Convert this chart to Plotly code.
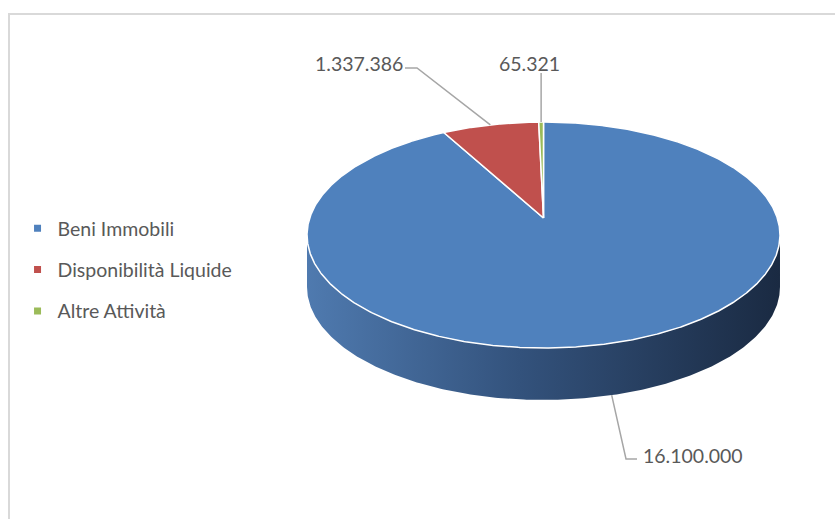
import numpy as np
import plotly.graph_objects as go

# ---- data ----
categories = ["Beni Immobili", "Disponibilità Liquide", "Altre Attività"]
values = [16100000, 1337386, 65321]
value_labels = ["16.100.000", "1.337.386", "65.321"]
colors = ["#4f81bd", "#c0504d", "#9bbb59"]
side_scales = [
    [[0, "#4f7aaf"], [0.45, "#33527c"], [1, "#1a2a42"]],
    [[0, "#9e3e3b"], [1, "#5e2322"]],
    [[0, "#7f9a48"], [1, "#4a5c2a"]],
]

# ---- geometry (pixel space of the 835x519 page) ----
W, H = 835, 519
CX, CY = 543.5, 218.0   # apex of slices
R = 233.8               # radius
A, C = 77.65, -0.1504   # perspective parameters
DEPTH = 52              # thickness of the pie


def proj(theta_deg, r=1.0):
    t = np.radians(theta_deg)
    u = r * np.sin(t)
    v = -r * np.cos(t)
    den = 1 + C * v
    return CX + u * R / den, (A * v + CY) / den


total = float(sum(values))
fracs = [v / total for v in values]
starts = np.concatenate([[0], np.cumsum(fracs)[:-1]]) * 360
ends = np.cumsum(fracs) * 360

# visible side range (between the horizontal extremes)
tt = np.linspace(0, 360, 36001)
xx, _ = proj(tt)
t_right = tt[np.argmax(xx)]
t_left = tt[np.argmin(xx)]

fig = go.Figure()

# sides
for i in range(len(values)):
    a = max(starts[i], t_right)
    b = min(ends[i], t_left)
    if b <= a:
        continue
    th = np.linspace(a, b, 300)
    xt, yt = proj(th)
    xs = np.concatenate([xt, xt[::-1], [xt[0]]])
    ys = np.concatenate([yt, (yt + DEPTH)[::-1], [yt[0]]])
    fig.add_trace(go.Scatter(
        x=xs, y=ys, mode="lines", fill="toself",
        fillgradient=dict(type="horizontal", colorscale=side_scales[i]),
        line=dict(width=0), showlegend=False, hoverinfo="skip"))

# top faces
for i in range(len(values)):
    th = np.linspace(starts[i], ends[i], max(int((ends[i] - starts[i]) * 3), 4))
    xt, yt = proj(th)
    xs = np.concatenate([[CX], xt, [CX]])
    ys = np.concatenate([[CY], yt, [CY]])
    fig.add_trace(go.Scatter(
        x=xs, y=ys, mode="lines", fill="toself", fillcolor=colors[i],
        line=dict(color="white", width=1.5), showlegend=False,
        name=categories[i], hoverinfo="name"))

# legend entries
for i in range(len(values)):
    fig.add_trace(go.Scatter(
        x=[None], y=[None], mode="markers", name=categories[i],
        legendgroup=categories[i],
        marker=dict(symbol="square", size=7, color=colors[i])))

# leader lines + labels
mids = (starts + ends) / 2
FONT = "Lato, Open Sans, sans-serif"
label_font = dict(family=FONT, size=19.5, color="#595959")
lc = "#a6a6a6"

# Beni Immobili (front, bottom edge of side)
bx, by = proj(mids[0])
fig.add_trace(go.Scatter(x=[bx, 626, 637], y=[by + DEPTH, 459, 459], mode="lines",
                         line=dict(color=lc, width=1.5), showlegend=False, hoverinfo="skip"))
fig.add_annotation(x=641, y=455, text=value_labels[0], showarrow=False,
                   xanchor="left", yanchor="middle", font=label_font)
# Disponibilità Liquide
rx, ry = proj(mids[1])
fig.add_trace(go.Scatter(x=[rx, 417, 405], y=[ry, 68, 68], mode="lines",
                         line=dict(color=lc, width=1.5), showlegend=False, hoverinfo="skip"))
fig.add_annotation(x=405, y=63, text=value_labels[1], showarrow=False,
                   xanchor="right", yanchor="middle", font=label_font)
# Altre Attività
gx, gy = proj(mids[2])
fig.add_trace(go.Scatter(x=[gx, gx], y=[gy, 73], mode="lines",
                         line=dict(color=lc, width=1.5), showlegend=False, hoverinfo="skip"))
fig.add_annotation(x=529, y=63, text=value_labels[2], showarrow=False,
                   xanchor="center", yanchor="middle", font=label_font)

# chart border
fig.add_shape(type="rect", x0=9, y0=14, x1=W + 5, y1=H + 5,
              line=dict(color="#d9d9d9", width=2), layer="below")

fig.update_layout(
    width=W, height=H,
    margin=dict(l=0, r=0, t=0, b=0),
    paper_bgcolor="white", plot_bgcolor="white",
    xaxis=dict(range=[0, W], visible=False, fixedrange=True),
    yaxis=dict(range=[H, 0], visible=False, fixedrange=True),
    showlegend=True,
    legend=dict(x=0.021, xanchor="left", y=1 - 270 / H, yanchor="middle",
                font=dict(family=FONT, size=19.5, color="#595959"),
                tracegroupgap=13, itemwidth=30, bgcolor="rgba(0,0,0,0)"),
)

fig.write_html("out.html")
